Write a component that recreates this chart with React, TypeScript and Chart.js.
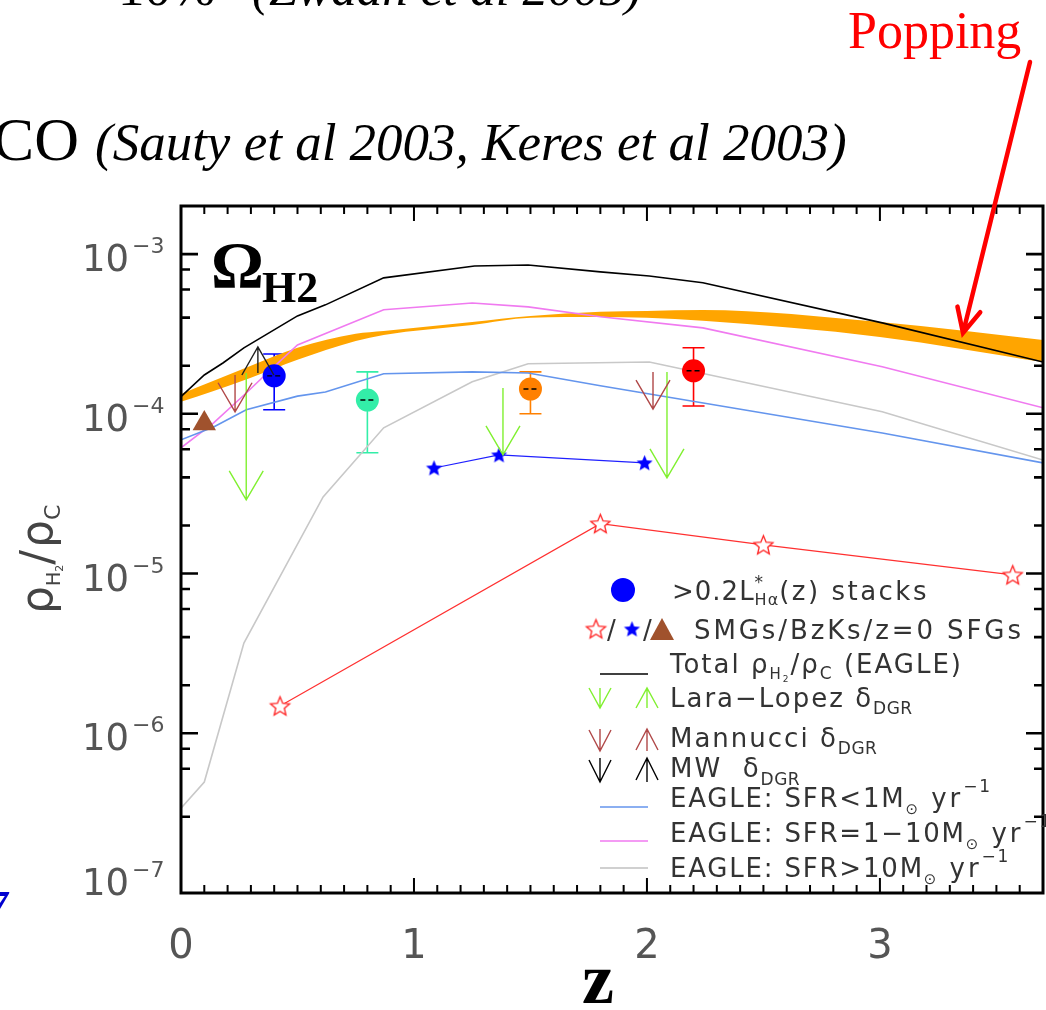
import React, { useEffect, useRef } from "react";
import { Chart, registerables } from "chart.js";
Chart.register(...registerables);

// ---------------- data ----------------
const xTicksMajor = [0, 1, 2, 3];
const yDecades = [1e-7, 1e-6, 1e-5, 1e-4, 1e-3];

// EAGLE total rho_H2 / rho_c
const zTotal = [0, 0.1, 0.18, 0.27, 0.5, 0.62, 0.87, 1.26, 1.49, 1.8, 2.01, 2.24, 3.01, 3.7];
const rhoTotal = [1.28e-4, 1.75e-4, 2.08e-4, 2.59e-4, 4.1e-4, 4.81e-4, 7.1e-4, 8.43e-4, 8.55e-4, 7.74e-4, 7.29e-4, 6.61e-4, 3.71e-4, 2.11e-4];
// EAGLE SFR < 1
const zLow = [0, 0.14, 0.28, 0.5, 0.62, 0.87, 1.25, 1.49, 1.8, 3.01, 3.7];
const rhoLow = [6.87e-5, 8.28e-5, 1.06e-4, 1.29e-4, 1.37e-4, 1.78e-4, 1.83e-4, 1.8e-4, 1.5e-4, 7.59e-5, 4.93e-5];
// EAGLE SFR = 1-10
const zMid = [0, 0.14, 0.28, 0.37, 0.5, 0.87, 1.25, 1.49, 1.8, 2.24, 3.01, 3.7];
const rhoMid = [6.12e-5, 8.77e-5, 1.35e-4, 1.8e-4, 2.7e-4, 4.48e-4, 4.94e-4, 4.67e-4, 4.05e-4, 3.45e-4, 1.97e-4, 1.09e-4];
// EAGLE SFR > 10
const zHigh = [0, 0.1, 0.27, 0.61, 0.87, 1.25, 1.49, 2.01, 3.01, 3.7];
const rhoHigh = [3.4e-7, 4.95e-7, 3.67e-6, 3.02e-5, 8.17e-5, 1.585e-4, 2.06e-4, 2.11e-4, 1.03e-4, 5.14e-5];
// Popping band
const zPopping = [0, 0.14, 0.3, 0.5, 0.75, 0.87, 1.25, 1.5, 1.8, 2.0, 2.24, 3.0, 3.7];
const poppingHi = [1.33e-4, 1.61e-4, 2.0e-4, 2.59e-4, 3.17e-4, 3.3e-4, 3.76e-4, 4.1e-4, 4.35e-4, 4.41e-4, 4.47e-4, 3.76e-4, 2.9e-4];
const poppingLo = [1.19e-4, 1.39e-4, 1.68e-4, 2.18e-4, 2.86e-4, 3.12e-4, 3.6e-4, 3.99e-4, 4.04e-4, 3.99e-4, 3.82e-4, 3.03e-4, 2.11e-4];
// stacks
const zStacks = [0.4, 0.8, 1.5, 2.2];
const rhoStacks = [1.73e-4, 1.22e-4, 1.43e-4, 1.86e-4];
const rhoStacksHi = [2.37e-4, 1.83e-4, 1.83e-4, 2.59e-4];
const rhoStacksLo = [1.06e-4, 5.7e-5, 1.0e-4, 1.12e-4];
const stackColors = ["#0000ff", "#33eea8", "#ff8000", "#ff0000"];
// SMGs, BzKs, z=0 SFGs
const zSMG = [0.425, 1.8, 2.5, 3.57];
const rhoSMG = [1.48e-6, 2.05e-5, 1.51e-5, 9.8e-6];
const zBzK = [1.086, 1.365, 1.99];
const rhoBzK = [4.58e-5, 5.53e-5, 4.93e-5];
const zSFG = [0.1];
const rhoSFG = [8.7e-5];
// limits (arrows): from -> to
const zLara = [0.28, 1.382, 2.086];
const laraFrom = [1.8e-4, 1.45e-4, 1.83e-4];
const laraTo = [2.89e-5, 5.53e-5, 3.97e-5];
const zMann = [0.232, 2.026];
const mannFrom = [1.75e-4, 1.83e-4];
const mannTo = [1.03e-4, 1.07e-4];
const zMW = [0.33];
const mwFrom = [1.8e-4];
const mwTo = [2.62e-4];

const SANS = "'DejaVu Sans', sans-serif";
const SERIF = "'Liberation Serif', 'Times New Roman', serif";

type Part = { t: string; size: number; dy?: number; stack?: boolean; family?: string; weight?: string; ls?: number };

function drawParts(ctx: CanvasRenderingContext2D, x: number, y: number, parts: Part[], family: string, spacing: number) {
  let cx = x;
  let pending = 0;
  for (const p of parts) {
    ctx.font = `${p.weight || ""} ${p.size}px ${p.family || family}`;
    (ctx as any).letterSpacing = (p.ls ?? spacing) + "px";
    ctx.fillText(p.t, cx, y + (p.dy || 0));
    const w = ctx.measureText(p.t).width;
    if (p.stack) pending = Math.max(pending, w);
    else {
      cx += Math.max(w, pending);
      pending = 0;
    }
  }
  (ctx as any).letterSpacing = "0px";
  return cx;
}

function makeStar(r: number, fill: string | null, stroke: string | null, lw: number) {
  const c = document.createElement("canvas");
  const s = Math.ceil(2 * r + lw * 2 + 2);
  c.width = s;
  c.height = s;
  const g = c.getContext("2d")!;
  g.translate(s / 2, s / 2 + r * 0.08);
  g.beginPath();
  for (let i = 0; i < 10; i++) {
    const a = -Math.PI / 2 + (i * Math.PI) / 5;
    const rr = i % 2 ? r * 0.45 : r;
    g.lineTo(rr * Math.cos(a), rr * Math.sin(a));
  }
  g.closePath();
  if (fill) {
    g.fillStyle = fill;
    g.fill();
  }
  if (stroke) {
    g.strokeStyle = stroke;
    g.lineWidth = lw;
    g.lineJoin = "miter";
    g.stroke();
  }
  return c;
}

function arrow(ctx: CanvasRenderingContext2D, x: number, yFrom: number, yTo: number, color: string, hw: number, hl: number, lw: number) {
  ctx.save();
  ctx.strokeStyle = color;
  ctx.lineWidth = lw;
  const dir = yTo > yFrom ? 1 : -1;
  ctx.beginPath();
  ctx.moveTo(x, yFrom);
  ctx.lineTo(x, yTo);
  ctx.moveTo(x - hw, yTo - dir * hl);
  ctx.lineTo(x, yTo);
  ctx.lineTo(x + hw, yTo - dir * hl);
  ctx.stroke();
  ctx.restore();
}

function pts(xs: number[], ys: number[]) {
  return xs.map((x, i) => ({ x, y: ys[i] }));
}

export default function App() {
  const ref = useRef<HTMLCanvasElement | null>(null);

  useEffect(() => {
    document.body.style.margin = "0";
    const canvas = ref.current!;
    const openStar = makeStar(10, "#ffffff", "#ff2020", 1.3);
    const blueStar = makeStar(8.5, "#0000ff", null, 0);

    const deco = {
      id: "deco",
      beforeDatasetsDraw(chart: any) {
        const ctx: CanvasRenderingContext2D = chart.ctx;
        const xs = chart.scales.x;
        const ys = chart.scales.y;
        ctx.save();
        zStacks.forEach((z, i) => {
          const px = xs.getPixelForValue(z);
          const hi = ys.getPixelForValue(rhoStacksHi[i]);
          const lo = ys.getPixelForValue(rhoStacksLo[i]);
          ctx.strokeStyle = stackColors[i];
          ctx.lineWidth = 1.6;
          ctx.beginPath();
          ctx.moveTo(px, hi);
          ctx.lineTo(px, lo);
          ctx.moveTo(px - 11, hi);
          ctx.lineTo(px + 11, hi);
          ctx.moveTo(px - 11, lo);
          ctx.lineTo(px + 11, lo);
          ctx.stroke();
        });
        ctx.restore();
      },
      afterDatasetsDraw(chart: any) {
        const ctx: CanvasRenderingContext2D = chart.ctx;
        const xs = chart.scales.x;
        const ys = chart.scales.y;
        ctx.save();
        // dashes inside stacks
        zStacks.forEach((z, i) => {
          const px = xs.getPixelForValue(z);
          const py = ys.getPixelForValue(rhoStacks[i]);
          ctx.strokeStyle = "#000";
          ctx.lineWidth = 1.3;
          ctx.setLineDash([5, 3]);
          ctx.beginPath();
          ctx.moveTo(px - 7, py);
          ctx.lineTo(px + 7, py);
          ctx.stroke();
        });
        ctx.setLineDash([]);
        zLara.forEach((z, i) =>
          arrow(ctx, xs.getPixelForValue(z), ys.getPixelForValue(laraFrom[i]), ys.getPixelForValue(laraTo[i]), "#80f030", 17, 29, 1.4)
        );
        zMann.forEach((z, i) =>
          arrow(ctx, xs.getPixelForValue(z), ys.getPixelForValue(mannFrom[i]), ys.getPixelForValue(mannTo[i]), "#b04848", 17, 29, 1.4)
        );
        zMW.forEach((z, i) =>
          arrow(ctx, xs.getPixelForValue(z), ys.getPixelForValue(mwFrom[i]), ys.getPixelForValue(mwTo[i]), "#202020", 16, 28, 1.4)
        );
        ctx.restore();
      },
      afterDraw(chart: any) {
        const ctx: CanvasRenderingContext2D = chart.ctx;
        const xs = chart.scales.x;
        const ys = chart.scales.y;
        const a = chart.chartArea;
        ctx.save();
        // ticks
        ctx.strokeStyle = "#000";
        ctx.lineCap = "butt";
        ctx.lineWidth = 2.6;
        ys.ticks.forEach((t: any) => {
          const v = t.value;
          const e = Math.log10(v);
          const major = Math.abs(e - Math.round(e)) < 1e-6;
          const py = ys.getPixelForValue(v);
          if (py < a.top + 2 || py > a.bottom - 2) return;
          const len = major ? 17 : 9;
          ctx.beginPath();
          ctx.moveTo(a.left, py);
          ctx.lineTo(a.left + len, py);
          ctx.moveTo(a.right, py);
          ctx.lineTo(a.right - len, py);
          ctx.stroke();
        });
        ctx.lineWidth = 2;
        xs.ticks.forEach((t: any) => {
          const v = t.value;
          const major = Math.abs(v - Math.round(v)) < 1e-6;
          const px = xs.getPixelForValue(v);
          if (px < a.left + 2 || px > a.right - 2) return;
          const len = major ? 15 : 8;
          ctx.beginPath();
          ctx.moveTo(px, a.bottom);
          ctx.lineTo(px, a.bottom - len);
          ctx.moveTo(px, a.top);
          ctx.lineTo(px, a.top + len);
          ctx.stroke();
        });
        // frame
        ctx.lineWidth = 3;
        ctx.strokeRect(a.left, a.top, a.right - a.left, a.bottom - a.top);

        // y tick labels
        ctx.fillStyle = "#555";
        yDecades.forEach((v) => {
          const py = ys.getPixelForValue(v);
          const base = Math.min(py + 17, a.bottom + 2);
          ctx.font = `37px ${SANS}`;
          ctx.textAlign = "right";
          ctx.fillText("10", 129, base);
          ctx.font = `22px ${SANS}`;
          ctx.textAlign = "left";
          ctx.fillText("\u2212" + Math.round(-Math.log10(v)), 132, base - 18);
        });
        // x tick labels
        ctx.textAlign = "center";
        ctx.font = `40px ${SANS}`;
        xTicksMajor.forEach((v) => {
          ctx.fillText(String(v), xs.getPixelForValue(v), 958);
        });

        // axis titles
        ctx.fillStyle = "#000";
        ctx.font = `bold 72px ${SERIF}`;
        ctx.fillText("z", 598, 1003);
        ctx.textAlign = "left";
        ctx.save();
        ctx.translate(52, 614);
        ctx.rotate(-Math.PI / 2);
        ctx.fillStyle = "#444";
        drawParts(ctx, 0, 0, [
          { t: "\u03c1", size: 44 },
          { t: "H", size: 19, dy: 8 },
          { t: "2", size: 11, dy: 11 },
          { t: "/", size: 44, ls: 2 },
          { t: "\u03c1", size: 44 },
          { t: "C", size: 22, dy: 8 },
        ], SANS, 0);
        ctx.restore();

        // Omega_H2 label
        ctx.fillStyle = "#000";
        ctx.font = `bold 66px ${SERIF}`;
        ctx.fillText("\u03a9", 211, 287);
        ctx.font = `bold 44px ${SERIF}`;
        ctx.fillText("H2", 262, 302);

        // legend
        ctx.fillStyle = "#0000ff";
        ctx.beginPath();
        ctx.arc(623, 590, 12, 0, Math.PI * 2);
        ctx.fill();
        ctx.fillStyle = "#333";
        drawParts(ctx, 672, 600, [
          { t: ">0.2L", size: 26 },
          { t: "*", size: 17, dy: -12, stack: true },
          { t: "H\u03b1", size: 16, dy: 5 },
          { t: "(z) stacks", size: 26, ls: 2.5 },
        ], SANS, 1);

        ctx.drawImage(openStar, 596 - openStar.width / 2, 629 - openStar.height / 2);
        ctx.drawImage(blueStar, 632 - blueStar.width / 2, 629 - blueStar.height / 2);
        ctx.fillStyle = "#333";
        ctx.font = `26px ${SANS}`;
        ctx.fillText("/", 607, 639);
        ctx.fillText("/", 643, 639);
        ctx.fillStyle = "#a0522d";
        ctx.beginPath();
        ctx.moveTo(662, 618);
        ctx.lineTo(674, 640);
        ctx.lineTo(650, 640);
        ctx.closePath();
        ctx.fill();
        ctx.fillStyle = "#333";
        drawParts(ctx, 694, 639, [{ t: "SMGs/BzKs/z=0 SFGs", size: 26 }], SANS, 2.9);

        const legLine = (y: number, color: string) => {
          ctx.strokeStyle = color;
          ctx.lineWidth = 1.6;
          ctx.beginPath();
          ctx.moveTo(600, y);
          ctx.lineTo(648, y);
          ctx.stroke();
        };
        legLine(674, "#000");
        ctx.fillStyle = "#333";
        drawParts(ctx, 670, 673, [
          { t: "Total \u03c1", size: 26 },
          { t: "H", size: 15, dy: 6 },
          { t: "2", size: 9, dy: 9 },
          { t: "/\u03c1", size: 26 },
          { t: "C", size: 17, dy: 6 },
          { t: " (EAGLE)", size: 26 },
        ], SANS, 2);

        arrow(ctx, 600, 688, 708, "#80f030", 11, 20, 1.4);
        arrow(ctx, 647, 708, 688, "#80f030", 11, 20, 1.4);
        ctx.fillStyle = "#333";
        drawParts(ctx, 670, 707, [
          { t: "Lara\u2212Lopez \u03b4", size: 26 },
          { t: "DGR", size: 17, dy: 7, ls: 0.5 },
        ], SANS, 2);

        arrow(ctx, 600, 729, 751, "#b04848", 11, 21, 1.4);
        arrow(ctx, 647, 751, 729, "#b04848", 11, 21, 1.4);
        ctx.fillStyle = "#333";
        drawParts(ctx, 670, 747, [
          { t: "Mannucci \u03b4", size: 26 },
          { t: "DGR", size: 17, dy: 7, ls: 0.5 },
        ], SANS, 2);

        arrow(ctx, 600, 758, 782, "#000", 11, 22, 1.4);
        arrow(ctx, 647, 782, 758, "#000", 11, 22, 1.4);
        ctx.fillStyle = "#333";
        drawParts(ctx, 670, 777, [
          { t: "MW  \u03b4", size: 26 },
          { t: "DGR", size: 17, dy: 8, ls: 0.5 },
        ], SANS, 2);

        const eagleRow = (y: number, line: number, color: string, label: string) => {
          legLine(line, color);
          ctx.fillStyle = "#333";
          drawParts(ctx, 670, y, [
            { t: label, size: 26 },
            { t: "\u2299", size: 15, dy: 7 },
            { t: " yr", size: 26, ls: 3 },
            { t: "\u22121", size: 17, dy: -15 },
          ], SANS, 1.8);
        };
        eagleRow(807, 807, "#6495ed", "EAGLE: SFR<1M");
        eagleRow(842, 841, "#f07af0", "EAGLE: SFR=1\u221210M");
        eagleRow(877, 868, "#c0c0c0", "EAGLE: SFR>10M");

        // slide text outside plot
        ctx.fillStyle = "#000";
        ctx.font = `62px ${SERIF}`;
        ctx.textAlign = "right";
        ctx.fillText("CO", 79, 160);
        ctx.textAlign = "left";
        ctx.font = `italic 53px ${SERIF}`;
        ctx.fillText("(Sauty et al 2003, Keres et al 2003)", 95, 160);
        ctx.font = `53px ${SERIF}`;
        ctx.fillText("10%", 118, 5);
        ctx.font = `italic 51px ${SERIF}`;
        ctx.fillText("(Zwaan et al 2005)", 252, 5);

        ctx.fillStyle = "#ff0000";
        ctx.font = `52px ${SERIF}`;
        ctx.fillText("Popping", 848, 48);

        // red annotation arrow
        const x0 = 1030, y0 = 62, x1 = 963, y1 = 333;
        ctx.strokeStyle = "#ff0000";
        ctx.lineWidth = 4.5;
        ctx.lineCap = "round";
        ctx.beginPath();
        ctx.moveTo(x0, y0);
        ctx.lineTo(x1, y1);
        const ang = Math.atan2(y0 - y1, x0 - x1);
        const L = 27;
        ctx.moveTo(x1 + L * Math.cos(ang - 0.45), y1 + L * Math.sin(ang - 0.45));
        ctx.lineTo(x1, y1);
        ctx.lineTo(x1 + L * Math.cos(ang + 0.45), y1 + L * Math.sin(ang + 0.45));
        ctx.stroke();

        // clipped blue glyph at left edge
        ctx.fillStyle = "#0000d0";
        ctx.font = `bold italic 40px ${SERIF}`;
        ctx.fillText("7", -12, 918);
        ctx.restore();
      },
    };

    const chart = new Chart(canvas, {
      type: "line",
      data: {
        datasets: [
          {
            label: "Popping upper",
            data: pts(zPopping, poppingHi),
            borderWidth: 0,
            borderColor: "rgba(0,0,0,0)",
            backgroundColor: "#ffa500",
            fill: "+1",
            pointRadius: 0,
            cubicInterpolationMode: "monotone",
            order: 10,
          },
          {
            label: "Popping lower",
            data: pts(zPopping, poppingLo),
            borderWidth: 0,
            borderColor: "rgba(0,0,0,0)",
            backgroundColor: "#ffa500",
            fill: false,
            pointRadius: 0,
            cubicInterpolationMode: "monotone",
            order: 10,
          },
          { label: "SFR>10", data: pts(zHigh, rhoHigh), borderColor: "#c8c8c8", borderWidth: 1.6, pointRadius: 0, fill: false, order: 6 },
          { label: "SFR<1", data: pts(zLow, rhoLow), borderColor: "#6495ed", borderWidth: 1.6, pointRadius: 0, fill: false, order: 5 },
          { label: "SFR=1-10", data: pts(zMid, rhoMid), borderColor: "#f07af0", borderWidth: 1.6, pointRadius: 0, fill: false, order: 5 },
          { label: "Total", data: pts(zTotal, rhoTotal), borderColor: "#000000", borderWidth: 1.6, pointRadius: 0, fill: false, order: 4 },
          {
            label: "SMGs",
            data: pts(zSMG, rhoSMG),
            borderColor: "#ff3030",
            borderWidth: 1.2,
            pointStyle: openStar as any,
            pointRadius: 10,
            fill: false,
            order: 3,
          },
          {
            label: "BzKs",
            data: pts(zBzK, rhoBzK),
            borderColor: "#2020ff",
            borderWidth: 1.2,
            pointStyle: blueStar as any,
            pointRadius: 9,
            fill: false,
            order: 3,
          },
          {
            label: "z=0 SFGs",
            data: pts(zSFG, rhoSFG),
            showLine: false,
            pointStyle: "triangle",
            pointRadius: 13.5,
            pointBackgroundColor: "#a0522d",
            pointBorderColor: "#a0522d",
            pointBorderWidth: 0,
            order: 2,
          },
          {
            label: "stacks",
            data: pts(zStacks, rhoStacks),
            showLine: false,
            pointStyle: "circle",
            pointRadius: 11.5,
            pointBackgroundColor: stackColors,
            pointBorderColor: stackColors,
            pointBorderWidth: 0,
            order: 1,
          },
        ],
      },
      options: {
        animation: false,
        responsive: false,
        devicePixelRatio: 1,
        layout: { autoPadding: false, padding: { left: 181, top: 206, right: 3, bottom: 117 } },
        plugins: { legend: { display: false }, tooltip: { enabled: false } },
        elements: { line: { tension: 0 } },
        scales: {
          x: { type: "linear", min: 0, max: 3.7, display: false, ticks: { stepSize: 0.1 } },
          y: { type: "logarithmic", min: 1e-7, max: 2e-3, display: false },
        },
      },
      plugins: [deco],
    } as any);
    return () => chart.destroy();
  }, []);

  return (
    <div style={{ position: "absolute", left: 0, top: 0, width: 1046, height: 1010, background: "#fff" }}>
      <canvas ref={ref} width={1046} height={1010} style={{ display: "block", width: 1046, height: 1010 }} />
    </div>
  );
}
